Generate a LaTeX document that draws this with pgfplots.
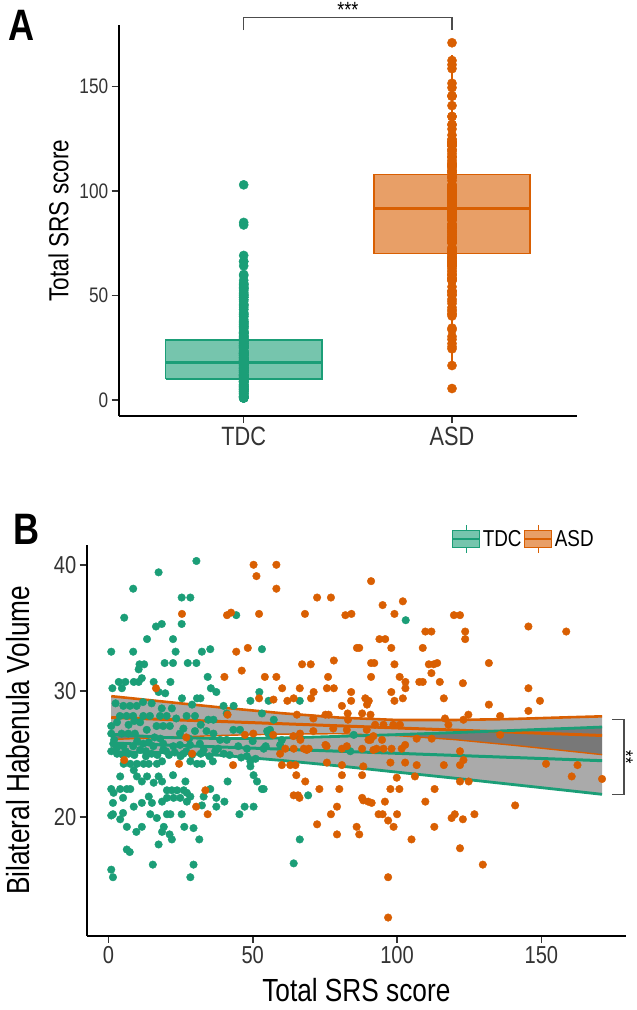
\documentclass[border=0pt]{standalone}
\usepackage{fontspec}
\setmainfont{Liberation Sans}[FakeStretch=0.82]
\usepackage{pgfplots}
\usepackage{pgfplotstable}
\pgfplotsset{compat=1.18}

\definecolor{TDCcol}{HTML}{1B9E77}
\definecolor{ASDcol}{HTML}{D95F02}
\definecolor{BandGrey}{HTML}{313131}
\definecolor{AxisGrey}{HTML}{333333}

% Total SRS score and bilateral habenula volume, one row per subject
\pgfplotstableread{
srs hab
30.5 40.3
17.4 39.4
8.6 38.1
25.4 37.4
28.4 37.4
5.5 35.8
44.3 36.0
25.4 35.3
16.5 35.1
18.5 35.3
13.4 34.1
22.4 34.1
1.0 33.1
8.6 33.1
23.3 33.1
32.4 33.1
35.3 33.3
53.2 33.3
10.8 32.1
12.4 32.1
10.5 31.7
19.5 32.2
22.4 32.2
27.5 32.2
30.5 32.2
3.6 30.7
4.7 30.2
5.9 30.7
8.8 30.7
10.5 30.7
11.6 31.0
1.4 30.2
15.7 30.7
21.5 30.7
34.4 31.1
35.5 30.2
37.4 29.9
52.3 29.9
17.4 29.9
19.7 29.8
25.5 29.4
30.7 29.4
31.9 29.4
49.2 29.2
39.9 28.8
43.4 28.8
53.2 28.2
1.0 27.2
5.2 28.8
7.5 28.8
9.8 28.8
4.0 28.0
6.3 28.0
8.6 28.0
12.1 28.0
14.4 28.0
17.9 28.0
20.2 28.0
1.0 26.6
4.6 26.6
6.9 26.6
9.2 26.6
13.3 26.9
16.7 27.2
19.0 27.2
21.3 27.2
24.8 26.6
27.1 28.0
30.0 28.0
1.7 25.8
5.2 25.6
8.6 25.6
12.1 25.8
15.6 25.6
19.0 25.8
22.5 25.6
24.8 25.7
28.3 25.7
31.7 25.8
34.6 27.7
36.4 27.7
34.0 26.8
36.4 26.6
41.0 28.2
55.4 26.6
59.5 25.7
43.3 26.9
45.6 26.9
38.7 26.1
41.0 26.1
2.5 29.0
3.0 27.5
11.0 27.5
15.0 29.0
18.0 26.2
22.0 28.6
26.0 27.0
28.0 26.2
7.0 27.3
10.0 26.0
13.0 25.2
16.0 26.3
3.0 25.0
20.0 25.2
26.0 25.0
30.0 26.8
33.0 25.3
2.0 26.1
6.0 25.2
9.0 27.6
12.0 29.1
14.0 25.9
18.5 28.6
23.5 27.8
29.0 28.9
32.0 27.3
37.0 25.2
40.0 25.0
45.0 25.6
48.0 24.8
50.0 26.0
54.5 25.6
56.0 26.9
1.0 25.2
3.0 25.5
5.0 24.9
7.0 25.0
9.0 24.9
11.0 25.3
13.0 24.8
15.0 25.0
17.0 24.9
19.0 25.3
21.0 24.9
23.0 25.1
25.0 24.8
27.0 25.2
29.0 24.9
32.0 25.0
35.0 24.8
38.0 25.4
42.0 24.9
46.0 24.7
48.0 25.4
51.0 24.6
5.3 24.2
7.6 24.2
9.9 24.2
12.2 24.2
14.0 24.2
16.8 24.2
18.6 24.4
28.4 24.4
30.7 24.2
32.4 24.2
36.2 24.4
49.2 24.4
49.2 24.0
4.1 23.2
8.8 23.7
9.9 23.2
11.6 22.8
13.4 23.2
15.7 22.7
17.4 23.2
18.6 22.8
22.4 23.3
26.7 22.8
41.3 22.8
50.3 23.3
51.5 22.8
53.2 22.2
1.0 22.2
1.8 21.9
4.1 22.2
6.4 22.2
7.6 22.2
5.1 21.5
1.6 21.1
8.8 20.8
11.6 21.1
14.0 21.6
15.1 21.1
18.6 21.2
20.3 22.1
22.0 22.1
23.8 22.1
26.1 22.1
27.2 21.9
20.3 21.5
22.6 21.5
24.9 21.5
27.2 21.2
28.4 21.6
33.0 21.6
35.3 22.2
32.4 20.9
37.4 21.5
37.4 20.8
40.2 21.2
47.2 20.8
50.3 20.8
45.4 20.2
1.0 20.1
1.6 20.2
5.1 20.3
4.1 19.8
6.4 19.2
11.6 19.2
9.7 18.8
14.5 20.2
16.8 19.9
20.3 20.2
21.5 20.2
25.4 20.2
19.2 19.2
18.6 18.8
21.2 18.6
22.0 18.2
26.3 19.2
29.5 19.1
31.5 18.2
17.4 17.8
6.4 17.4
7.4 17.2
15.4 16.2
29.5 16.2
28.4 15.2
1.0 15.8
1.6 15.2
55.5 29.2
66.3 29.2
57.3 27.7
55.0 26.8
60.1 26.1
53.8 25.4
83.8 25.2
85.0 26.5
53.8 22.2
69.2 21.7
66.3 18.2
64.2 16.3
103.0 35.6
}\tdcdata

\pgfplotstableread{
srs hab
5.5 24.5
16.5 30.2
24.5 24.2
25.5 36.1
27.0 26.3
29.0 25.0
30.4 20.8
33.6 22.1
34.4 20.2
40.2 31.1
41.1 36.0
41.3 28.1
42.5 36.2
43.2 24.1
44.3 33.1
46.2 31.6
47.3 26.5
48.3 33.4
50.2 26.6
50.3 40.0
51.3 39.1
52.2 36.1
52.2 29.4
54.2 31.1
57.1 26.5
57.2 29.3
58.2 40.0
58.2 38.1
58.2 31.1
59.5 25.0
60.1 24.1
60.2 30.2
61.3 25.4
62.0 29.2
63.0 24.1
64.1 26.4
64.2 29.4
64.2 25.4
64.2 21.7
64.8 24.1
65.1 23.3
65.3 28.1
65.7 21.7
66.2 21.5
66.3 30.2
66.4 26.6
66.5 26.1
67.1 32.1
67.7 25.4
68.1 36.1
68.2 22.8
68.7 25.3
69.4 25.4
70.1 32.1
70.2 29.4
71.0 27.8
71.0 26.8
71.1 29.9
72.3 37.4
72.3 19.4
73.1 22.2
75.2 28.1
75.2 25.7
75.6 25.6
75.7 30.2
75.7 24.3
76.1 31.1
76.3 28.1
77.1 37.4
77.1 20.2
77.9 27.0
78.1 32.4
78.1 30.2
79.2 20.8
79.2 18.6
80.0 22.2
80.9 28.8
80.9 25.4
80.9 24.1
80.9 23.3
82.1 36.0
82.6 26.9
82.6 25.6
82.9 28.2
83.0 27.7
84.1 29.9
84.1 29.2
84.2 36.1
86.0 19.2
86.1 33.4
86.9 33.4
86.9 18.6
87.9 28.2
87.9 25.4
87.9 23.3
87.9 21.5
88.3 24.0
88.3 21.3
89.0 29.4
89.5 26.9
89.6 28.9
90.0 21.2
90.1 26.1
90.2 29.2
90.8 28.1
90.8 26.1
91.0 38.7
91.0 32.2
91.0 31.1
91.2 21.1
91.8 26.4
91.8 25.3
92.1 32.2
92.4 27.3
92.9 25.4
93.6 20.2
93.9 34.1
94.8 26.1
95.0 36.8
95.0 20.2
95.3 27.3
95.3 25.4
95.8 21.2
95.9 34.1
96.9 19.7
96.9 15.2
96.9 12.0
97.7 24.3
97.7 22.2
98.0 33.4
98.0 29.9
98.1 25.4
98.7 27.3
98.8 19.2
99.1 36.1
99.1 32.1
99.1 29.2
99.9 23.1
100.0 20.2
100.8 22.2
100.9 31.1
101.0 27.3
101.6 25.4
102.0 37.1
102.0 29.4
102.8 25.7
102.8 24.3
102.9 30.7
102.9 30.2
105.0 18.2
106.2 23.2
106.8 26.2
106.8 24.1
107.7 30.7
108.9 33.4
108.9 30.7
109.8 34.7
109.8 21.2
111.0 32.1
111.9 34.7
111.9 31.4
112.0 26.2
112.7 32.1
112.9 19.2
113.0 22.2
113.9 32.2
114.8 30.7
116.2 29.4
116.2 24.1
116.6 27.8
117.8 27.3
118.9 19.9
119.7 36.0
120.0 20.2
121.8 36.0
121.8 25.2
121.8 24.1
121.8 22.8
121.8 17.5
122.8 30.6
122.8 19.8
123.0 27.7
123.0 24.5
123.6 34.7
123.6 34.1
124.7 28.1
124.8 22.8
126.8 20.2
129.7 16.2
131.8 32.2
131.8 28.9
135.7 28.0
135.7 26.5
140.9 20.9
145.5 35.1
145.5 30.2
145.5 28.4
149.5 29.2
151.6 24.2
158.6 34.7
160.5 23.2
162.5 24.1
171.0 23.0
}\asddata

\pgfplotsset{
    ggaxis/.style={
        scale only axis,
        clip=false,
        axis x line*=bottom,
        axis y line*=left,
        axis line style={black, line width=1.6bp, -},
        tick align=outside,
        major tick length=7bp,
        tick style={AxisGrey, line width=1.6bp},
        /pgf/number format/assume math mode=true,
        ticklabel style={text=black!80},
        label style={text=black},
    },
}

\begin{document}
\begin{tikzpicture}
\path[use as bounding box] (0bp,0bp) rectangle (637bp,-1010bp);

% ---------------- panel A ----------------
\begin{axis}[
    ggaxis,
    at={(118.7bp,-25bp)},
    anchor=north west,
    width=458.3bp,
    height=391bp,
    xmin=0.4, xmax=2.6,
    ymin=-7.66, ymax=179.5,
    xtick={1,2},
    xticklabels={TDC,ASD},
    ytick={0,50,100,150},
    xticklabel style={font=\fontsize{26.5bp}{30bp}\selectfont},
    yticklabel style={font=\fontsize{21bp}{24bp}\selectfont},
    ylabel={Total SRS score},
    ylabel style={font=\fontsize{27.5bp}{31bp}\selectfont,
        at={(axis description cs:-0.131,0.5)}, anchor=center},
]
% whiskers
\addplot[TDCcol, line width=1.2bp] coordinates {(1,1) (1,10)};
\addplot[TDCcol, line width=1.2bp] coordinates {(1,28.7) (1,56)};
\addplot[ASDcol, line width=1.2bp] coordinates {(2,17) (2,70)};
\addplot[ASDcol, line width=1.2bp] coordinates {(2,108) (2,165)};
% boxes (quartiles) and medians
\addplot[draw=TDCcol, fill=TDCcol!60!white, line width=1.4bp] coordinates {
    (0.625,10) (1.375,10) (1.375,28.7) (0.625,28.7) (0.625,10)};
\addplot[TDCcol, line width=3bp] coordinates {(0.625,17.9) (1.375,17.9)};
\addplot[draw=ASDcol, fill=ASDcol!60!white, line width=1.4bp] coordinates {
    (1.625,70) (2.375,70) (2.375,108) (1.625,108) (1.625,70)};
\addplot[ASDcol, line width=3bp] coordinates {(1.625,91.8) (2.375,91.8)};

\addplot[only marks, mark=*, mark size=4.6bp, color=TDCcol]
    table[x expr=1, y=srs] {\tdcdata};
\addplot[only marks, mark=*, mark size=4.6bp, color=ASDcol]
    table[x expr=2, y=srs] {\asddata};

\draw[black!70, line width=1.2bp]
    (axis cs:1,177.1) -- (axis cs:1,183.2) -- (axis cs:2,183.2) -- (axis cs:2,177.1);
\node[font=\fontsize{22bp}{24bp}\selectfont] at (axis cs:1.5,186.5) {***};
\end{axis}

\node[font=\bfseries\fontsize{44bp}{48bp}\selectfont] at (22bp,-25bp) {A};

% ---------------- panel B ----------------
\begin{axis}[
    ggaxis,
    at={(86.7bp,-544.6bp)},
    anchor=north west,
    width=539.3bp,
    height=391.2bp,
    xmin=-7.5, xmax=179.3,
    ymin=10.55, ymax=41.6,
    xtick={0,50,100,150},
    ytick={20,30,40},
    ticklabel style={font=\fontsize{24.5bp}{28bp}\selectfont},
    xlabel={Total SRS score},
    ylabel={Bilateral Habenula Volume},
    xlabel style={font=\fontsize{32bp}{36bp}\selectfont,
        at={(axis description cs:0.5,-0.139)}, anchor=center},
    ylabel style={font=\fontsize{32bp}{36bp}\selectfont,
        at={(axis description cs:-0.128,0.5)}, anchor=center},
    legend columns=2,
    legend style={
        at={(axis description cs:0.677,1.0143)},
        anchor=west,
        draw=none, fill=none,
        inner sep=0pt,
        column sep=1.5bp,
        font=\fontsize{23bp}{26bp}\selectfont,
        nodes={inner sep=1bp},
    },
]
\addlegendimage{legend image code/.code={
    \draw[draw=TDCcol, fill=TDCcol!60!white, line width=1.3bp]
        (0bp,-8.5bp) rectangle (27bp,8.5bp);
    \draw[TDCcol, line width=1.3bp]
        (0bp,0bp) -- (27bp,0bp)
        (13.5bp,8.5bp) -- (13.5bp,14bp)
        (13.5bp,-8.5bp) -- (13.5bp,-14bp);
}}
\addlegendentry{TDC}
\addlegendimage{legend image code/.code={
    \draw[draw=ASDcol, fill=ASDcol!60!white, line width=1.3bp]
        (0bp,-8.5bp) rectangle (27bp,8.5bp);
    \draw[ASDcol, line width=1.3bp]
        (0bp,0bp) -- (27bp,0bp)
        (13.5bp,8.5bp) -- (13.5bp,14bp)
        (13.5bp,-8.5bp) -- (13.5bp,-14bp);
}}
\addlegendentry{ASD}

\addplot[forget plot, only marks, mark=*, mark size=3.8bp, color=TDCcol]
    table[x=srs, y=hab] {\tdcdata};
\addplot[forget plot, only marks, mark=*, mark size=3.8bp, color=ASDcol]
    table[x=srs, y=hab] {\asddata};

% confidence bands of the linear fits
\addplot[forget plot, draw=none, fill=BandGrey, fill opacity=0.41] coordinates {
    (1,29.57) (20,29.12) (40,28.65) (60,28.22) (80,27.87) (100,27.68)
    (120,27.68) (140,27.76) (160,27.90) (171,27.97)
    (171,24.93) (160,25.20) (140,25.68) (120,26.12) (100,26.44)
    (80,26.59) (60,26.56) (40,26.46) (20,26.30) (1,26.13) (1,29.57)};
\addplot[forget plot, draw=none, fill=BandGrey, fill opacity=0.41] coordinates {
    (1,26.55) (20,26.29) (40,26.20) (60,26.25) (80,26.38) (100,26.52)
    (120,26.68) (140,26.85) (160,27.02) (171,27.12)
    (171,21.78) (160,22.06) (140,22.56) (120,23.06) (100,23.54)
    (80,24.03) (60,24.47) (40,24.86) (20,25.09) (1,25.15) (1,26.55)};

% band edges and fitted lines
\addplot[forget plot, ASDcol, line width=2.6bp] coordinates {
    (1,29.57) (20,29.12) (40,28.65) (60,28.22) (80,27.87) (100,27.68)
    (120,27.68) (140,27.76) (160,27.90) (171,27.97)};
\addplot[forget plot, ASDcol, line width=1.4bp] coordinates {
    (1,26.13) (20,26.30) (40,26.46) (60,26.56) (80,26.59) (100,26.44)
    (120,26.12) (140,25.68) (160,25.20) (171,24.93)};
\addplot[forget plot, ASDcol, line width=3bp] coordinates {(1,27.88) (171,26.45)};
\addplot[forget plot, TDCcol, line width=2.8bp] coordinates {
    (1,26.55) (20,26.29) (40,26.20) (60,26.25) (80,26.38) (100,26.52)
    (120,26.68) (140,26.85) (160,27.02) (171,27.12)};
\addplot[forget plot, TDCcol, line width=2.8bp] coordinates {
    (1,25.15) (20,25.09) (40,24.86) (60,24.47) (80,24.03) (100,23.54)
    (120,23.06) (140,22.56) (160,22.06) (171,21.78)};
\addplot[forget plot, TDCcol, line width=3bp] coordinates {(1,25.85) (171,24.45)};

\draw[black!70, line width=1.3bp]
    (axis cs:174.5,27.7) -- (axis cs:178.6,27.7) -- (axis cs:178.6,21.76) -- (axis cs:174.5,21.76);
\node[rotate=-90, inner sep=0pt, font=\fontsize{20bp}{22bp}\selectfont]
    at (axis cs:179.3,24.73) {**};
\end{axis}

\node[font=\bfseries\fontsize{44bp}{48bp}\selectfont] at (26.5bp,-529.5bp) {B};
\end{tikzpicture}
\end{document}
